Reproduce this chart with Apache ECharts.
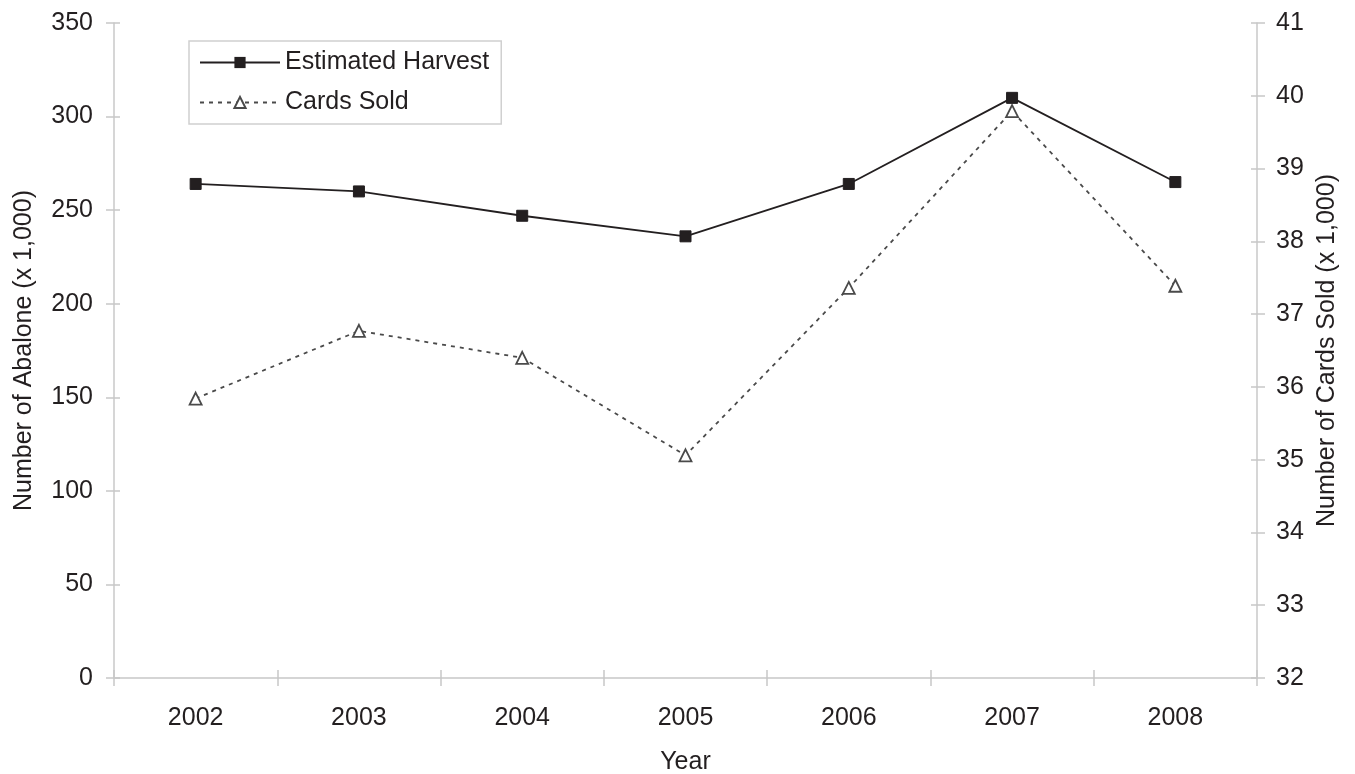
<!DOCTYPE html>
<html>
<head>
<meta charset="utf-8">
<script src="https://cdn.jsdelivr.net/npm/echarts@6/dist/echarts.min.js"></script>
<style>
  html, body { margin: 0; padding: 0; background: #fff; }
  #chart { width: 1355px; height: 774px; }
</style>
</head>
<body>
<div id="chart"></div>
<script>
// Abalone harvest estimate and report cards sold, 2002-2008
const years = ['2002', '2003', '2004', '2005', '2006', '2007', '2008'];
const harvest = [264, 260, 247, 236, 264, 310, 265];          // thousands of abalone
const cardsSold = [35.84, 36.77, 36.40, 35.06, 37.36, 39.79, 37.39]; // thousands of cards

const FONT = '"Liberation Sans", Arial, sans-serif';
const FS = 25;
const TXT = '#231f20';
const AXIS = '#c8c8c8';

const chart = echarts.init(document.getElementById('chart'));

const baseX = {
  type: 'category',
  data: years,
  boundaryGap: true,
  axisLine: { lineStyle: { color: AXIS, width: 1.5 } },
  splitLine: { show: false }
};

chart.setOption({
  animation: false,
  textStyle: { fontFamily: FONT },
  grid: { left: 114, right: 98, top: 23, bottom: 96, containLabel: false, outerBoundsMode: 'none' },
  legend: {
    orient: 'vertical',
    left: 189,
    top: 41,
    padding: [9, 12, 9, 10],
    itemGap: 15,
    itemWidth: 80,
    itemHeight: 14,
    borderColor: '#d0d0d0',
    borderWidth: 1.5,
    textStyle: { fontFamily: FONT, fontSize: FS, color: TXT },
    data: ['Estimated Harvest', 'Cards Sold']
  },
  xAxis: [
    Object.assign({}, baseX, {
      name: 'Year',
      nameLocation: 'middle',
      nameGap: 72,
      nameTextStyle: { fontSize: FS, color: TXT, fontFamily: FONT },
      axisTick: { show: true, inside: false, length: 8, lineStyle: { color: AXIS, width: 1.5 } },
      axisLabel: { fontSize: FS, color: TXT, margin: 28, fontFamily: FONT }
    }),
    Object.assign({}, baseX, {
      position: 'bottom',
      axisLine: { show: false },
      axisTick: { show: true, inside: true, length: 8, lineStyle: { color: AXIS, width: 1.5 } },
      axisLabel: { show: false }
    })
  ],
  yAxis: [
    {
      type: 'value', position: 'left', min: 0, max: 350, interval: 50,
      name: 'Number of Abalone (x 1,000)',
      nameLocation: 'middle', nameGap: 77, nameRotate: 90,
      nameTextStyle: { fontSize: FS, color: TXT, fontFamily: FONT },
      axisLine: { show: true, lineStyle: { color: AXIS, width: 1.5 } },
      axisTick: { show: true, length: 8, lineStyle: { color: AXIS, width: 1.5 } },
      axisLabel: { fontSize: FS, color: TXT, margin: 21, fontFamily: FONT },
      splitLine: { show: false }
    },
    {
      type: 'value', position: 'right', min: 32, max: 41, interval: 1,
      name: 'Number of Cards Sold (x 1,000)',
      nameLocation: 'middle', nameGap: 55, nameRotate: 90,
      nameTextStyle: { fontSize: FS, color: TXT, fontFamily: FONT },
      axisLine: { show: true, lineStyle: { color: AXIS, width: 1.5 } },
      axisTick: { show: true, length: 8, lineStyle: { color: AXIS, width: 1.5 } },
      axisLabel: { fontSize: FS, color: TXT, margin: 19, fontFamily: FONT },
      splitLine: { show: false }
    },
    {
      type: 'value', position: 'left', min: 0, max: 350, interval: 50,
      axisLine: { show: false },
      axisTick: { show: true, inside: true, length: 6, lineStyle: { color: AXIS, width: 1.5 } },
      axisLabel: { show: false },
      splitLine: { show: false }
    },
    {
      type: 'value', position: 'right', min: 32, max: 41, interval: 1,
      axisLine: { show: false },
      axisTick: { show: true, inside: true, length: 6, lineStyle: { color: AXIS, width: 1.5 } },
      axisLabel: { show: false },
      splitLine: { show: false }
    }
  ],
  series: [
    {
      name: 'Estimated Harvest',
      type: 'line',
      xAxisIndex: 0,
      yAxisIndex: 0,
      data: harvest,
      symbol: 'rect',
      symbolSize: 11,
      lineStyle: { color: '#231f20', width: 1.8 },
      itemStyle: { color: '#231f20', borderColor: '#231f20' },
      z: 3
    },
    {
      name: 'Cards Sold',
      type: 'line',
      xAxisIndex: 0,
      yAxisIndex: 1,
      data: cardsSold,
      symbol: 'triangle',
      symbolSize: 12,
      showAllSymbol: true,
      lineStyle: { color: '#4a4a4a', width: 1.8, type: [4, 5] },
      itemStyle: { color: '#ffffff', borderColor: '#4a4a4a', borderWidth: 1.8 },
      z: 2
    }
  ]
});
</script>
</body>
</html>
